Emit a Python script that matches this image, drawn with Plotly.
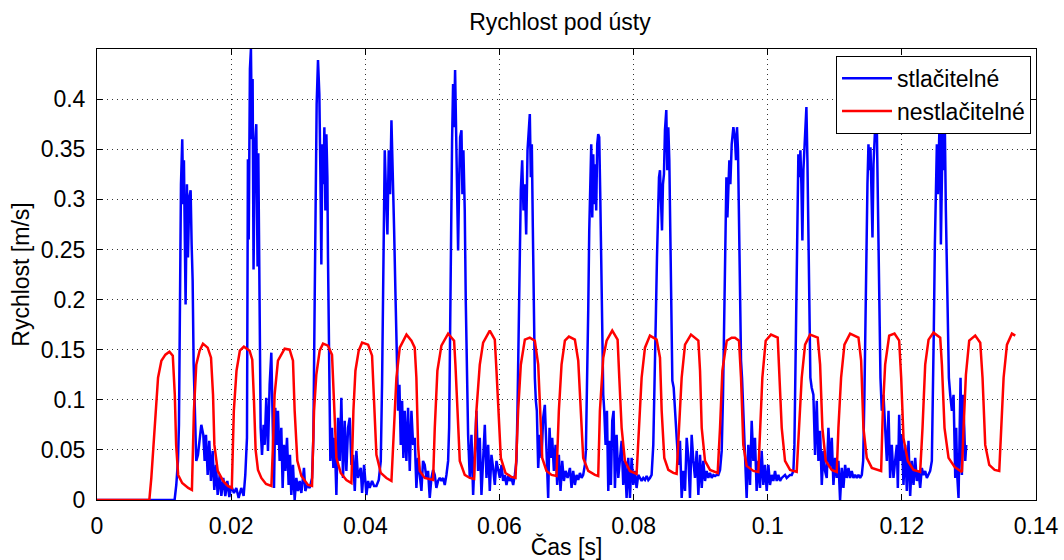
import plotly.graph_objects as go

# Time axis in milliseconds, velocity in m/s
red_t_ms = [
    0, 7.8, 8.1, 8.6, 9.1, 9.6, 10.2, 10.8, 11.3, 11.6, 11.8, 12.1, 12.7, 13.6, 14.15,
    14.45, 14.8, 15.3, 15.8, 16.5, 17.0, 17.3, 17.5, 18.0, 18.8, 19.5, 20.1,
    20.4, 20.8, 21.3, 21.9, 22.75, 23.15, 23.4, 23.65, 24.0, 24.5, 25.2, 26.0,
    26.24, 26.48, 26.98, 27.98, 28.72, 29.22, 29.47, 29.87, 30.47, 31.46, 32.06,
    32.36, 32.7, 33.2, 33.7, 34.44, 35.04, 35.34, 35.69, 36.34, 37.18, 37.93,
    38.23, 38.53, 39.02, 39.52, 40.42, 41.01, 41.31, 41.66, 42.31, 43.15, 43.9,
    44.3, 44.64, 45.14, 46.14, 46.88, 47.37, 47.62, 47.87, 48.12, 48.86, 50.11,
    50.36, 50.75, 51.35, 52.35, 53.24, 53.44, 53.74, 54.09, 54.83, 55.58, 56.23,
    56.57, 57.07, 57.57, 58.56, 59.31, 59.56, 59.81, 60.21, 60.9, 61.8, 62.4,
    62.79, 63.19, 63.79, 64.53, 65.28, 65.78, 66.03, 66.38, 67.02, 67.77, 68.51,
    68.86, 69.26, 69.76, 70.36, 71.25, 71.75, 72.15, 72.49, 73.24, 74.24, 74.73,
    74.98, 75.48, 75.98, 76.82, 77.62, 77.87, 78.22, 78.71, 79.46, 80.45,
    80.8, 81.2, 81.7, 82.44, 83.44, 83.94, 84.19, 84.58, 85.18, 85.93, 86.42,
    86.77, 87.17, 87.67, 88.56, 89.66, 89.91, 90.16, 90.65, 91.4, 92.15, 92.54,
    92.89, 93.24, 93.89, 94.63, 95.12, 95.72, 96.02, 96.36, 96.86, 97.86, 98.6,
    98.85, 99.2, 99.7, 100.49, 101.49, 101.74, 102.09, 102.58, 103.33, 104.32,
    104.67, 105.07, 105.57, 106.31, 107.46, 107.81, 108.15, 108.65, 109.55, 110.29,
    110.54, 110.94, 111.44, 112.28, 113.53, 113.93, 114.27, 114.77, 115.52, 116.91,
    117.16, 117.51, 118.11, 118.9, 119.6, 119.9, 120.24, 120.89, 121.74, 122.73,
    123.08, 123.48, 123.98, 124.72, 125.72, 125.97, 126.36, 126.96, 127.86, 128.95,
    129.2, 129.55, 130.04, 130.94, 131.69, 132.03, 132.43, 133.03, 133.83, 134.52,
    134.82, 135.17, 135.67, 136.41, 136.91,
]
red_v = [
    0, 0, 0.022, 0.072, 0.122, 0.139, 0.145, 0.148, 0.144, 0.105, 0.055, 0.025, 0.017, 0.012, 0.010,
    0.089, 0.135, 0.149, 0.156, 0.152, 0.142, 0.105, 0.055, 0.029, 0.019, 0.014, 0.012,
    0.089, 0.129, 0.149, 0.153, 0.149, 0.140, 0.100, 0.050, 0.030, 0.022, 0.016, 0.014,
    0.055, 0.105, 0.139, 0.151, 0.150, 0.139, 0.089, 0.039, 0.024, 0.015, 0.014,
    0.089, 0.125, 0.149, 0.156, 0.154, 0.145, 0.089, 0.042, 0.027, 0.020, 0.017,
    0.089, 0.129, 0.149, 0.157, 0.155, 0.144, 0.089, 0.045, 0.027, 0.022, 0.019,
    0.072, 0.122, 0.152, 0.165, 0.159, 0.152, 0.122, 0.055, 0.029, 0.022, 0.020,
    0.072, 0.129, 0.154, 0.166, 0.159, 0.135, 0.089, 0.039, 0.025, 0.022, 0.021,
    0.089, 0.135, 0.157, 0.169, 0.160, 0.129, 0.089, 0.042, 0.027, 0.023, 0.022,
    0.089, 0.135, 0.160, 0.162, 0.159, 0.135, 0.089, 0.042, 0.029, 0.025, 0.024,
    0.089, 0.135, 0.159, 0.163, 0.160, 0.139, 0.089, 0.042, 0.029, 0.025, 0.024,
    0.089, 0.142, 0.159, 0.169, 0.160, 0.122, 0.072, 0.039, 0.029, 0.026,
    0.072, 0.122, 0.152, 0.164, 0.160, 0.142, 0.089, 0.042, 0.030, 0.027, 0.026,
    0.072, 0.122, 0.155, 0.165, 0.159, 0.129, 0.072, 0.039, 0.030, 0.028, 0.027,
    0.072, 0.129, 0.159, 0.162, 0.162, 0.159, 0.122, 0.055, 0.034, 0.029, 0.028,
    0.072, 0.122, 0.159, 0.165, 0.162, 0.129, 0.072, 0.039, 0.030, 0.028,
    0.072, 0.122, 0.155, 0.165, 0.162, 0.135, 0.072, 0.039, 0.030, 0.028,
    0.072, 0.122, 0.155, 0.166, 0.162, 0.139, 0.072, 0.042, 0.032, 0.029,
    0.089, 0.135, 0.164, 0.166, 0.159, 0.122, 0.062, 0.039, 0.030, 0.028,
    0.072, 0.135, 0.160, 0.167, 0.162, 0.135, 0.072, 0.042, 0.033, 0.028,
    0.072, 0.125, 0.159, 0.164, 0.157, 0.122, 0.055, 0.035, 0.030, 0.029,
    0.072, 0.122, 0.155, 0.166, 0.164,
]

blue_t_ms = [
    0, 11.57, 11.82, 12.07, 12.22,
    12.37, 12.52, 12.71, 12.86, 12.96, 13.11, 13.21, 13.41, 13.56, 13.76, 13.96, 14.11, 14.26,
    14.41, 14.61, 14.80, 15.05, 15.30, 15.55, 15.85, 16.05, 16.25, 16.50, 16.74, 16.99, 17.24,
    17.49, 17.74, 17.99, 18.29, 18.54, 18.83, 19.13, 19.43, 19.73, 20.02, 20.42, 20.77, 21.12,
    21.51, 21.86, 22.11, 22.36,
    22.5, 22.62, 22.8, 22.95, 23.1, 23.2, 23.34, 23.54, 23.75, 23.94, 24.05, 24.25,
    24.4, 24.6, 24.84, 25.0, 25.24, 25.49, 25.74, 25.99, 26.19, 26.39, 26.58, 26.78, 26.98,
    27.23, 27.48, 27.68, 27.88, 28.08, 28.33, 28.57, 28.77, 28.97, 29.22, 29.47, 29.72, 29.97,
    30.22, 30.47, 30.86, 31.06, 31.36, 31.71, 32.06, 32.26,
    32.46, 32.61, 32.75, 32.95, 33.15, 33.3, 33.45, 33.6, 33.75, 33.9, 34.05, 34.2, 34.35, 34.44,
    34.64, 34.79, 35.04, 35.24, 35.44, 35.69, 35.94, 36.19, 36.43, 36.68, 36.93, 37.18, 37.43,
    37.68, 37.93, 38.18, 38.43, 38.67, 38.92, 39.32, 39.52, 39.82, 40.17, 40.42, 40.66, 41.01,
    41.31, 41.66, 42.01, 42.31,
    42.5, 42.7, 42.9, 43.1, 43.3, 43.5, 43.7, 43.9, 44.1, 44.3, 44.5,
    44.7, 44.89, 45.09, 45.29, 45.49, 45.68, 45.88, 46.13, 46.38, 46.63, 46.88, 47.13, 47.37,
    47.62, 47.87, 48.12, 48.37, 48.61, 48.86, 49.11, 49.36, 49.61, 49.86, 50.11, 50.36, 50.6,
    50.85, 51.1, 51.35, 51.6, 51.85, 52.1, 52.35,
    52.5, 52.64, 52.79, 52.94, 53.09, 53.24, 53.39, 53.54, 53.69, 53.84, 53.99, 54.14, 54.34,
    54.48, 54.63, 54.83, 54.98,
    55.18, 55.33, 55.58, 55.83, 56.08, 56.33, 56.57, 56.82, 57.07, 57.32, 57.57, 57.82, 58.07,
    58.32, 58.56, 58.81, 59.06, 59.31, 59.56, 59.81, 60.06, 60.31, 60.55, 60.8, 61.05, 61.3,
    61.55, 61.8, 62.05, 62.3, 62.54,
    62.69, 62.84, 62.99, 63.19, 63.39, 63.59, 63.79, 63.99, 64.19, 64.33, 64.53, 64.68, 64.83,
    64.98, 65.13,
    65.28, 65.43, 65.58, 65.78, 66.03, 66.28, 66.52, 66.77, 67.02, 67.27, 67.47, 67.67, 67.87,
    68.12, 68.37, 68.61, 68.86, 69.11, 69.36, 69.61, 69.86, 70.16, 70.51, 70.75, 71.0, 71.25,
    71.5, 71.75, 72.0, 72.25, 72.49, 72.74, 72.89,
    73.04, 73.24, 73.39, 73.54, 73.69, 73.84, 73.99, 74.14, 74.28, 74.43, 74.58, 74.73, 74.88,
    75.03, 75.18,
    75.33, 75.48, 75.63, 75.83, 76.03, 76.23, 76.42, 76.62, 76.82, 77.02, 77.22, 77.47, 77.72,
    77.97, 78.22, 78.46, 78.71, 78.96, 79.21, 79.46, 79.71, 79.96, 80.2, 80.45, 80.7, 80.95,
    81.2, 81.45, 81.7, 81.95, 82.2, 82.44, 82.69, 82.94,
    83.19, 83.34, 83.49, 83.64, 83.79, 83.94, 84.09, 84.24, 84.38, 84.53, 84.68, 84.88, 85.03,
    85.18, 85.33, 85.48, 85.63,
    85.78, 85.98, 86.18, 86.42, 86.67, 86.92, 87.17, 87.42, 87.67, 87.92, 88.17, 88.41, 88.66,
    88.91, 89.16, 89.41, 89.66, 89.91, 90.16, 90.4, 90.65, 90.9, 91.15, 91.4, 91.65, 91.9,
    92.15, 92.39, 92.64, 92.89, 93.14,
    93.34, 93.49, 93.64, 93.84, 93.99, 94.14, 94.28, 94.43, 94.63, 94.88, 95.12, 95.27, 95.42,
    95.57, 95.72, 95.87,
    96.02, 96.17, 96.36, 96.61, 96.86, 97.11, 97.36, 97.61, 97.86, 98.1, 98.35, 98.6, 98.85,
    99.1, 99.35, 99.6, 99.85, 100.1, 100.34, 100.59, 100.84, 101.09, 101.34, 101.59, 101.84,
    102.09, 102.33, 102.58, 102.83, 103.08, 103.33, 103.58, 103.83, 103.98,
    104.12, 104.27, 104.42, 104.57, 104.72, 104.87, 105.02, 105.17, 105.32, 105.47, 105.62,
    105.77, 105.92, 106.07, 106.21,
    106.36, 106.56, 106.81, 107.06, 107.31, 107.56, 107.81, 108.06, 108.3, 108.55, 108.8,
    109.05, 109.3, 109.55, 109.8, 110.05, 110.29, 110.54, 110.79, 111.04, 111.29, 111.54,
    111.79, 112.04, 112.28, 112.53, 112.78, 113.03, 113.28, 113.53, 113.78, 114.03, 114.23,
    114.42, 114.57, 114.72, 114.87, 115.02, 115.17, 115.32, 115.47, 115.62, 115.77, 115.92,
    116.07, 116.21, 116.36, 116.51, 116.66,
    116.81, 117.01, 117.26, 117.51, 117.76, 118.01, 118.25, 118.5, 118.75, 119.0, 119.25,
    119.4, 119.6, 119.8, 120.0, 120.24, 120.49, 120.74, 120.99, 121.24, 121.49, 121.74,
    121.99, 122.23, 122.48, 122.73, 122.98, 123.23, 123.48, 123.73, 123.98, 124.22, 124.47,
    124.62, 124.77, 124.92, 125.07, 125.22, 125.37, 125.52, 125.67, 125.82, 125.97, 126.11,
    126.26, 126.41, 126.56, 126.71, 126.86,
    127.01, 127.21, 127.46, 127.71, 127.96, 128.1, 128.25, 128.45, 128.6, 128.75, 128.95,
    129.1, 129.3, 129.45, 129.6,
]
blue_v = [
    0, 0, 0.015, 0.039, 0.075,
    0.242, 0.315, 0.360, 0.295, 0.339, 0.265, 0.195, 0.315, 0.242, 0.302, 0.309, 0.255, 0.219,
    0.135, 0.089, 0.039, 0.045, 0.062, 0.075, 0.065, 0.039, 0.065, 0.025, 0.059, 0.019, 0.049,
    0.010, 0.035, 0.005, 0.025, 0.004, 0.022, 0.004, 0.019, 0.003, 0.014, 0.007, 0.012, 0.002,
    0.012, 0.004, 0.025, 0.062,
    0.34, 0.26, 0.43, 0.45, 0.36, 0.42, 0.23, 0.353, 0.375, 0.233, 0.346, 0.195,
    0.072, 0.045, 0.075, 0.055, 0.102, 0.049, 0.115, 0.147, 0.055, 0.012, 0.092, 0.055, 0.089,
    0.039, 0.072, 0.012, 0.055, 0.029, 0.062, 0.015, 0.045, 0.005, 0.035, 0.0, 0.022, 0.009,
    0.019, 0.007, 0.032, 0.009, 0.015, 0.012, 0.022, 0.062,
    0.202, 0.355, 0.395, 0.439, 0.405, 0.329, 0.235, 0.355, 0.315, 0.372, 0.289, 0.365, 0.322, 0.242,
    0.105, 0.039, 0.072, 0.032, 0.062, 0.005, 0.082, 0.039, 0.102, 0.022, 0.079, 0.029, 0.072,
    0.082, 0.035, 0.045, 0.009, 0.049, 0.022, 0.032, 0.007, 0.035, 0.005, 0.019, 0.012, 0.019,
    0.014, 0.014, 0.020, 0.039,
    0.115, 0.262, 0.349, 0.305, 0.265, 0.349, 0.305, 0.379, 0.332, 0.269, 0.205,
    0.122, 0.089, 0.115, 0.055, 0.099, 0.042, 0.089, 0.039, 0.092, 0.029, 0.089, 0.055, 0.062,
    0.012, 0.042, 0.025, 0.009, 0.039, 0.035, 0.022, 0.029, 0.002, 0.022, 0.030, 0.025, 0.012,
    0.019, 0.022, 0.019, 0.022, 0.015, 0.025, 0.039,
    0.072, 0.172, 0.315, 0.359, 0.415, 0.372, 0.429, 0.355, 0.295, 0.249, 0.315, 0.362, 0.369,
    0.305, 0.349, 0.289, 0.199,
    0.105, 0.065, 0.022, 0.065, 0.005, 0.049, 0.089, 0.029, 0.062, 0.005, 0.039, 0.075, 0.022,
    0.055, 0.009, 0.045, 0.032, 0.015, 0.039, 0.032, 0.022, 0.035, 0.019, 0.025, 0.015, 0.024,
    0.019, 0.022, 0.015, 0.025, 0.039,
    0.089, 0.172, 0.239, 0.309, 0.339, 0.289, 0.315, 0.265, 0.349, 0.362, 0.385, 0.322, 0.355,
    0.272, 0.189,
    0.122, 0.099, 0.089, 0.032, 0.065, 0.042, 0.082, 0.095, 0.039, 0.002, 0.072, 0.042, 0.062,
    0.029, 0.055, 0.015, 0.045, 0.009, 0.039, 0.019, 0.029, 0.022, 0.032, 0.012, 0.029, 0.015,
    0.025, 0.020, 0.027, 0.022, 0.025, 0.035, 0.049,
    0.102, 0.189, 0.269, 0.329, 0.355, 0.282, 0.345, 0.295, 0.335, 0.289, 0.355, 0.365, 0.362,
    0.305, 0.222,
    0.159, 0.105, 0.089, 0.055, 0.089, 0.009, 0.059, 0.015, 0.079, 0.089, 0.012, 0.065, 0.022,
    0.039, 0.059, 0.015, 0.039, 0.002, 0.042, 0.002, 0.042, 0.015, 0.029, 0.012, 0.025, 0.022,
    0.019, 0.022, 0.020, 0.024, 0.020, 0.022, 0.025, 0.055,
    0.122, 0.189, 0.242, 0.275, 0.322, 0.329, 0.295, 0.269, 0.315, 0.325, 0.369, 0.389, 0.329,
    0.372, 0.339, 0.255, 0.189,
    0.119, 0.112, 0.089, 0.059, 0.035, 0.059, 0.002, 0.029, 0.009, 0.062, 0.042, 0.002, 0.065,
    0.039, 0.022, 0.049, 0.005, 0.045, 0.012, 0.039, 0.019, 0.029, 0.022, 0.027, 0.022, 0.025,
    0.024, 0.025, 0.025, 0.030, 0.049,
    0.105, 0.182, 0.255, 0.322, 0.282, 0.319, 0.339, 0.315, 0.355, 0.372, 0.360, 0.339, 0.372,
    0.349, 0.289, 0.189,
    0.139, 0.122, 0.089, 0.045, 0.002, 0.055, 0.015, 0.079, 0.039, 0.062, 0.009, 0.039, 0.012,
    0.049, 0.015, 0.035, 0.009, 0.035, 0.015, 0.025, 0.019, 0.029, 0.019, 0.025, 0.019,
    0.022, 0.024, 0.025, 0.022, 0.024, 0.025, 0.025, 0.029, 0.055,
    0.122, 0.195, 0.275, 0.345, 0.322, 0.349, 0.315, 0.259, 0.329, 0.355, 0.379,
    0.392, 0.339, 0.255, 0.189,
    0.122, 0.112, 0.105, 0.045, 0.099, 0.039, 0.069, 0.015, 0.049, 0.029, 0.022,
    0.072, 0.032, 0.062, 0.015, 0.042, 0.022, 0.039, 0.0, 0.032, 0.012, 0.035,
    0.022, 0.032, 0.022, 0.029, 0.022, 0.025, 0.022, 0.025, 0.022, 0.025, 0.039,
    0.105, 0.189, 0.262, 0.315, 0.355, 0.329, 0.352, 0.289, 0.262, 0.335, 0.355,
    0.380, 0.400, 0.329, 0.255, 0.189,
    0.122, 0.089, 0.105, 0.072, 0.039, 0.089, 0.022, 0.055, 0.022, 0.039, 0.055,
    0.012, 0.085, 0.039, 0.065, 0.015, 0.055, 0.009, 0.059, 0.004, 0.039, 0.015,
    0.042, 0.019, 0.029, 0.012, 0.032, 0.025, 0.029, 0.022, 0.025, 0.029, 0.039,
    0.089, 0.172, 0.255, 0.329, 0.355, 0.305, 0.372, 0.390, 0.255, 0.355, 0.382,
    0.329, 0.372, 0.289, 0.222, 0.162,
    0.122, 0.105, 0.089, 0.105, 0.022, 0.072, 0.025, 0.002, 0.055, 0.122, 0.025,
    0.105, 0.072, 0.039, 0.055,
]

x_ticks = [0, 0.02, 0.04, 0.06, 0.08, 0.10, 0.12, 0.14]
x_tick_text = ["0", "0.02", "0.04", "0.06", "0.08", "0.1", "0.12", "0.14"]
y_ticks = [0, 0.05, 0.10, 0.15, 0.20, 0.25, 0.30, 0.35, 0.40]
y_tick_text = ["0", "0.05", "0.1", "0.15", "0.2", "0.25", "0.3", "0.35", "0.4"]

FONT = "Liberation Sans, Arial, sans-serif"

fig = go.Figure()
fig.add_trace(go.Scatter(
    x=[t / 1000 for t in blue_t_ms], y=blue_v, mode="lines",
    name="stlačitelné", line=dict(color="#0000ff", width=2.5),
))
fig.add_trace(go.Scatter(
    x=[t / 1000 for t in red_t_ms], y=red_v, mode="lines",
    name="nestlačitelné", line=dict(color="#ff0000", width=2.5),
))

axis_common = dict(
    showline=True, linecolor="#000000", linewidth=1, mirror="allticks",
    ticks="inside", ticklen=6, tickcolor="#000000", tickwidth=1,
    showgrid=True, gridcolor="#333333", gridwidth=1, griddash="1px,4px",
    zeroline=False, automargin=False,
    tickfont=dict(family=FONT, size=23, color="#000000"),
)

fig.update_layout(
    width=1064, height=560,
    margin=dict(l=97, r=28, t=49, b=60),
    paper_bgcolor="#ffffff", plot_bgcolor="#ffffff",
    title=dict(text="Rychlost pod ústy", x=560 / 1064, xanchor="center",
               y=1 - 22 / 560, yanchor="middle", yref="container",
               font=dict(family=FONT, size=23, color="#000000")),
    xaxis=dict(range=[0, 0.14], tickvals=x_ticks, ticktext=x_tick_text,
               ticklabelstandoff=5,
               title=dict(text="Čas [s]", standoff=4,
                          font=dict(family=FONT, size=23, color="#000000")),
               **axis_common),
    yaxis=dict(range=[0, 0.45], tickvals=y_ticks, ticktext=y_tick_text,
               ticklabelstandoff=6,
               title=dict(text="Rychlost [m/s]", standoff=4,
                          font=dict(family=FONT, size=23, color="#000000")),
               **axis_common),
    legend=dict(x=0.9947, y=0.985, xanchor="right", yanchor="top",
                bgcolor="#ffffff", bordercolor="#000000", borderwidth=1,
                font=dict(family=FONT, size=23, color="#000000"),
                itemwidth=50, tracegroupgap=0),
    showlegend=True,
)

fig.write_html("out.html")
